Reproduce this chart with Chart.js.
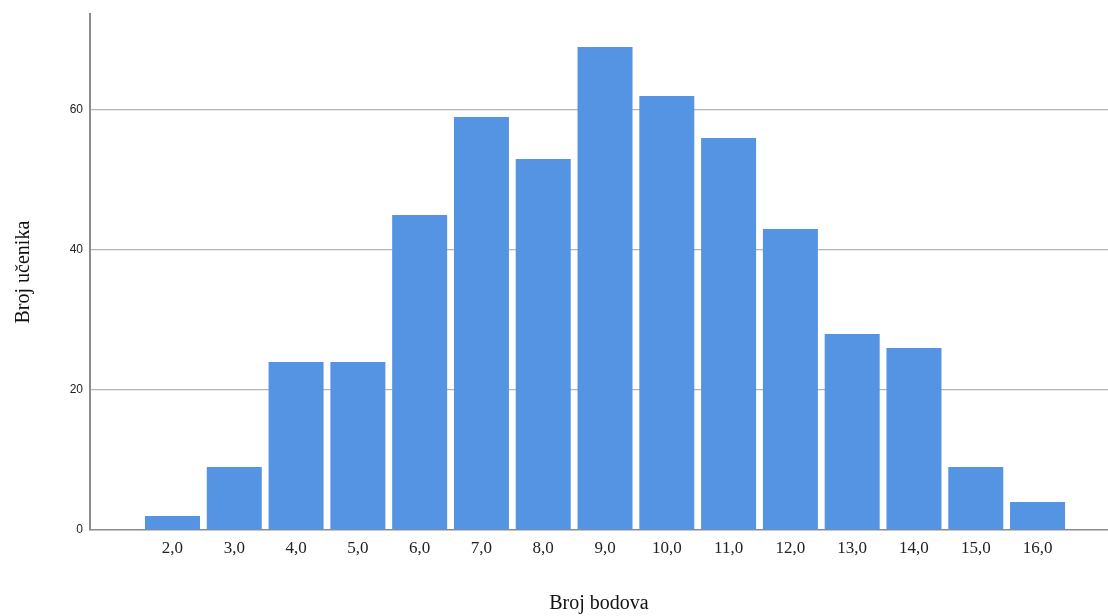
<!doctype html>
<html>
<head>
<meta charset="utf-8">
<title>Broj bodova</title>
<script src="https://cdn.jsdelivr.net/npm/chart.js"></script>
<style>
  html, body { margin: 0; padding: 0; background: #fff; }
  #wrap { width: 1108px; height: 616px; }
</style>
</head>
<body>
<div id="wrap"><canvas id="histChart"></canvas></div>
<script>
// points scored and number of students per score
const scores = [2, 3, 4, 5, 6, 7, 8, 9, 10, 11, 12, 13, 14, 15, 16];
const counts = [2, 9, 24, 24, 45, 59, 53, 69, 62, 56, 43, 28, 26, 9, 4];
const xTicks = [2, 3, 4, 5, 6, 7, 8, 9, 10, 11, 12, 13, 14, 15, 16];
const yTicks = [0, 20, 40, 60];

const serif = "'Liberation Serif', 'Times New Roman', serif";
const sans = "'Liberation Sans', Arial, sans-serif";

const ctx = document.getElementById("histChart").getContext("2d");
const chart = new Chart(ctx, {
    type: "bar",
    data: {
        datasets: [
            {
                label: "Broj učenika",
                data: scores.map((s, i) => ({ x: s, y: counts[i] })),
                backgroundColor: "rgb(85, 148, 226)",
                borderWidth: 0,
                barPercentage: 0.89,
                categoryPercentage: 1.0,
            },
        ],
    },
    options: {
        responsive: true,
        maintainAspectRatio: false,
        animation: false,
        layout: { padding: { top: 13, right: 0, left: 12, bottom: 0 } },
        plugins: {
            legend: { display: false },
            tooltip: { enabled: false },
        },
        scales: {
            x: {
                type: "linear",
                offset: false,
                min: 0.665,
                max: 17.14,
                afterBuildTicks: (scale) => {
                    scale.ticks = xTicks.map((v) => ({ value: v }));
                },
                afterFit: (scale) => {
                    scale.height = 86;
                },
                grid: { display: false, drawTicks: false },
                border: { display: true, color: "#8c8c8c", width: 1.5 },
                ticks: {
                    padding: 8,
                    color: "#222",
                    font: { family: serif, size: 17 },
                    callback: (v) => v.toFixed(1).replace(".", ","),
                },
                title: {
                    display: true,
                    text: "Broj bodova",
                    color: "#111",
                    font: { family: serif, size: 20 },
                    padding: { top: 18, bottom: 0 },
                },
            },
            y: {
                min: 0,
                max: 73.7,
                afterBuildTicks: (scale) => {
                    scale.ticks = yTicks.map((v) => ({ value: v }));
                },
                afterFit: (scale) => {
                    scale.width = 78;
                },
                grid: {
                    drawTicks: false,
                    color: (c) => (c.tick && c.tick.value === 0 ? "rgba(0,0,0,0)" : "#b4b4b4"),
                    lineWidth: 1.2,
                },
                border: { display: true, color: "#8c8c8c", width: 2 },
                ticks: {
                    padding: 7,
                    color: "#222",
                    font: { family: sans, size: 12 },
                },
                title: {
                    display: true,
                    text: "Broj učenika",
                    color: "#111",
                    font: { family: serif, size: 20 },
                    padding: { top: 0, bottom: 0 },
                },
            },
        },
    },
});
</script>
</body>
</html>
